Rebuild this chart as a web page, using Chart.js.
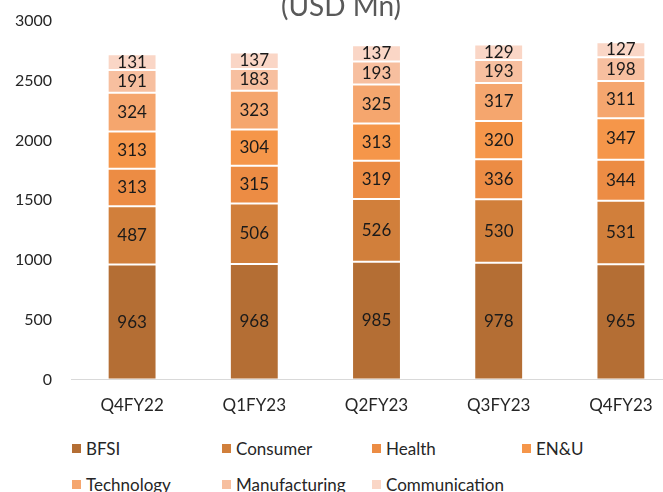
<!DOCTYPE html>
<html lang="en">
<head>
    <meta charset="UTF-8">
    <title>Revenue by Vertical (USD Mn)</title>
    <script src="https://cdn.jsdelivr.net/npm/chart.js@4.4.0/dist/chart.umd.min.js"></script>
    <style>
        body {
            margin: 0;
            width: 663px;
            height: 492px;
            overflow: hidden;
            background: #fff;
            font-family: Lato, "Open Sans", sans-serif;
            position: relative;
        }
        .chart-wrap {
            position: absolute;
            left: 0;
            top: -20px;
            width: 700px;
            height: 458px;
        }
        .legend {
            position: absolute;
            left: 72px;
            top: 438px;
            display: grid;
            grid-template-columns: repeat(4, 150px);
            row-gap: 16px;
            font-size: 17px;
            color: #262626;
        }
        .legend span.item {
            display: flex;
            align-items: center;
            height: 20px;
            white-space: nowrap;
        }
        .legend i {
            display: inline-block;
            width: 9px;
            height: 9px;
            margin-right: 5px;
        }
    </style>
</head>
<body>
    <div class="chart-wrap">
        <canvas id="verticalChart"></canvas>
    </div>
    <div class="legend" id="legend"></div>

    <script>
        const quarters = ['Q4FY22', 'Q1FY23', 'Q2FY23', 'Q3FY23', 'Q4FY23'];

        const bfsi          = [963, 968, 985, 978, 965];
        const consumer      = [487, 506, 526, 530, 531];
        const health        = [313, 315, 319, 336, 344];
        const enu           = [313, 304, 313, 320, 347];
        const technology    = [324, 323, 325, 317, 311];
        const manufacturing = [191, 183, 193, 193, 198];
        const communication = [131, 137, 137, 129, 127];

        const seriesNames  = ['BFSI', 'Consumer', 'Health', 'EN&U', 'Technology', 'Manufacturing', 'Communication'];
        const seriesValues = [bfsi, consumer, health, enu, technology, manufacturing, communication];
        const seriesColors = ['#b46e34', '#d17f3b', '#ec8c44', '#f5964a', '#f5a66e', '#f7bf9f', '#fad6c6'];

        const yTicks = [0, 500, 1000, 1500, 2000, 2500, 3000];

        // value labels in the middle of each segment
        const segmentLabels = {
            id: 'segmentLabels',
            afterDatasetsDraw(chart) {
                const ctx = chart.ctx;
                ctx.save();
                ctx.font = '17px Lato, "Open Sans", sans-serif';
                ctx.fillStyle = '#1a1a1a';
                ctx.textAlign = 'center';
                ctx.textBaseline = 'middle';
                chart.data.datasets.forEach((ds, i) => {
                    chart.getDatasetMeta(i).data.forEach((bar, j) => {
                        ctx.fillText(ds.data[j], bar.x, (bar.y + bar.base) / 2);
                    });
                });
                ctx.restore();
            }
        };

        const datasets = seriesNames.map((name, i) => ({
            label: name,
            data: seriesValues[i],
            backgroundColor: seriesColors[i],
            borderColor: 'rgba(255,255,255,0.25)',
            borderWidth: 1,
            borderSkipped: false,
            categoryPercentage: 1,
            barPercentage: 0.4
        }));

        const ctx = document.getElementById('verticalChart').getContext('2d');
        new Chart(ctx, {
            type: 'bar',
            data: { labels: quarters, datasets: datasets },
            options: {
                responsive: true,
                maintainAspectRatio: false,
                animation: false,
                layout: { padding: { left: 0, right: 18, top: 0, bottom: 6 } },
                plugins: {
                    legend: { display: false },
                    tooltip: { enabled: false },
                    title: {
                        display: true,
                        text: '(USD Mn)',
                        color: '#595959',
                        font: { family: 'Lato', size: 28, weight: 'normal', lineHeight: 1.0 },
                        padding: { top: 13, bottom: 0 }
                    }
                },
                scales: {
                    x: {
                        stacked: true,
                        grid: { display: false, drawTicks: false },
                        border: { display: true, color: '#d9d9d9', width: 1 },
                        ticks: {
                            color: '#262626',
                            padding: 16,
                            font: { family: 'Lato', size: 17 }
                        }
                    },
                    y: {
                        stacked: true,
                        min: yTicks[0],
                        max: yTicks[yTicks.length - 1],
                        afterBuildTicks: scale => {
                            scale.ticks = yTicks.map(v => ({ value: v }));
                        },
                        afterFit: scale => { scale.width = 71; },
                        grid: { display: false, drawTicks: false },
                        border: { display: false },
                        ticks: {
                            color: '#262626',
                            padding: 19,
                            font: { family: 'Lato', size: 16 },
                            callback: v => String(v)
                        }
                    }
                }
            },
            plugins: [segmentLabels]
        });

        // legend laid out in a grid like the original
        const legend = document.getElementById('legend');
        seriesNames.forEach((name, i) => {
            const item = document.createElement('span');
            item.className = 'item';
            item.innerHTML = `<i style="background:${seriesColors[i]}"></i>`;
            item.appendChild(document.createTextNode(name));
            legend.appendChild(item);
        });
    </script>
</body>
</html>
